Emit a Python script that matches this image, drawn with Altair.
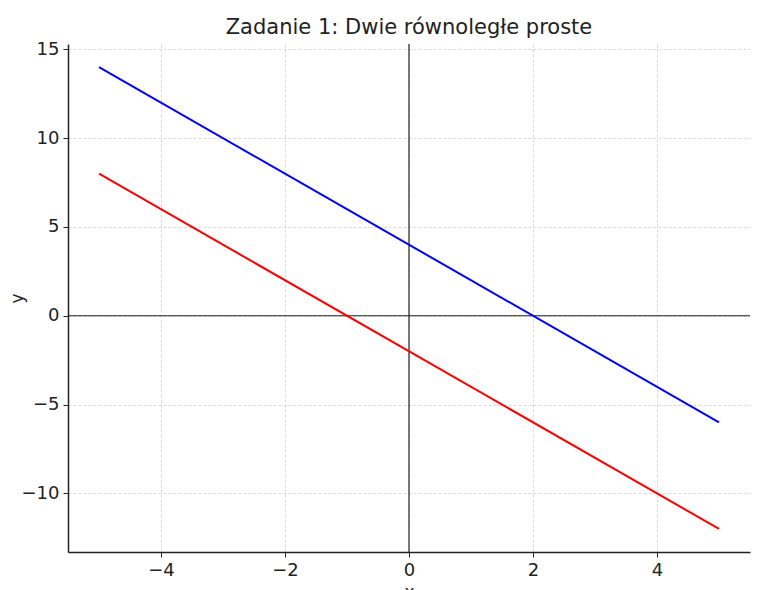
import altair as alt
import pandas as pd

x_vals = [-5, 5]
blue_y = [14, -6]
red_y = [8, -12]
x_ticks = [-4, -2, 0, 2, 4]
y_ticks = [-10, -5, 0, 5, 10, 15]

lines = pd.DataFrame({
    "x": x_vals + x_vals,
    "y": blue_y + red_y,
    "series": ["blue"] * len(x_vals) + ["red"] * len(x_vals),
})

FONT = "DejaVu Sans"
xscale = alt.Scale(domain=[-5.5, 5.5], nice=False, zero=False)
yscale = alt.Scale(domain=[-13.3, 15.3], nice=False, zero=False)

common = dict(grid=True, gridDash=[3, 2], gridColor="#cfcfcf", gridWidth=0.8, tickSize=5,
              tickColor="#222", domainColor="#222", domainWidth=1.5, labelFontSize=18,
              titleFontSize=17, labelColor="#222", titleColor="#222", titleFontWeight="normal",
              labelPadding=4, labelFont=FONT, titleFont=FONT, format="d")

base_x = alt.X("x:Q", scale=xscale, title="x",
               axis=alt.Axis(values=x_ticks, titlePadding=5, **common))
base_y = alt.Y("y:Q", scale=yscale, title="y",
               axis=alt.Axis(values=y_ticks, titleX=-46, titleY=254, titleAngle=270,
                             titleBaseline="alphabetic", titleAlign="center", **common))

line_chart = alt.Chart(lines).mark_line(strokeWidth=2, clip=True).encode(
    x=base_x,
    y=base_y,
    color=alt.Color("series:N", scale=alt.Scale(domain=["blue", "red"], range=["#0000ff", "#ff0000"]),
                    legend=None),
    detail="series:N",
)

vrule = alt.Chart(pd.DataFrame({"x": [0]})).mark_rule(color="#222", strokeWidth=1.2).encode(
    x=alt.X("x:Q", scale=xscale)
)
hrule = alt.Chart(pd.DataFrame({"y": [0]})).mark_rule(color="#222", strokeWidth=1.2).encode(
    y=alt.Y("y:Q", scale=yscale)
)

chart = alt.layer(vrule, hrule, line_chart).properties(
    width=682,
    height=508,
    title=alt.Title("Zadanie 1: Dwie równoległe proste", fontSize=21, font=FONT,
                    fontWeight="normal", color="#222", offset=2),
    autosize=alt.AutoSizeParams(type="none"),
    padding={"left": 60, "top": 36, "right": 16, "bottom": 60},
).configure_view(stroke=None)

chart.save("out.html", embed_options={"renderer": "svg", "actions": False})
